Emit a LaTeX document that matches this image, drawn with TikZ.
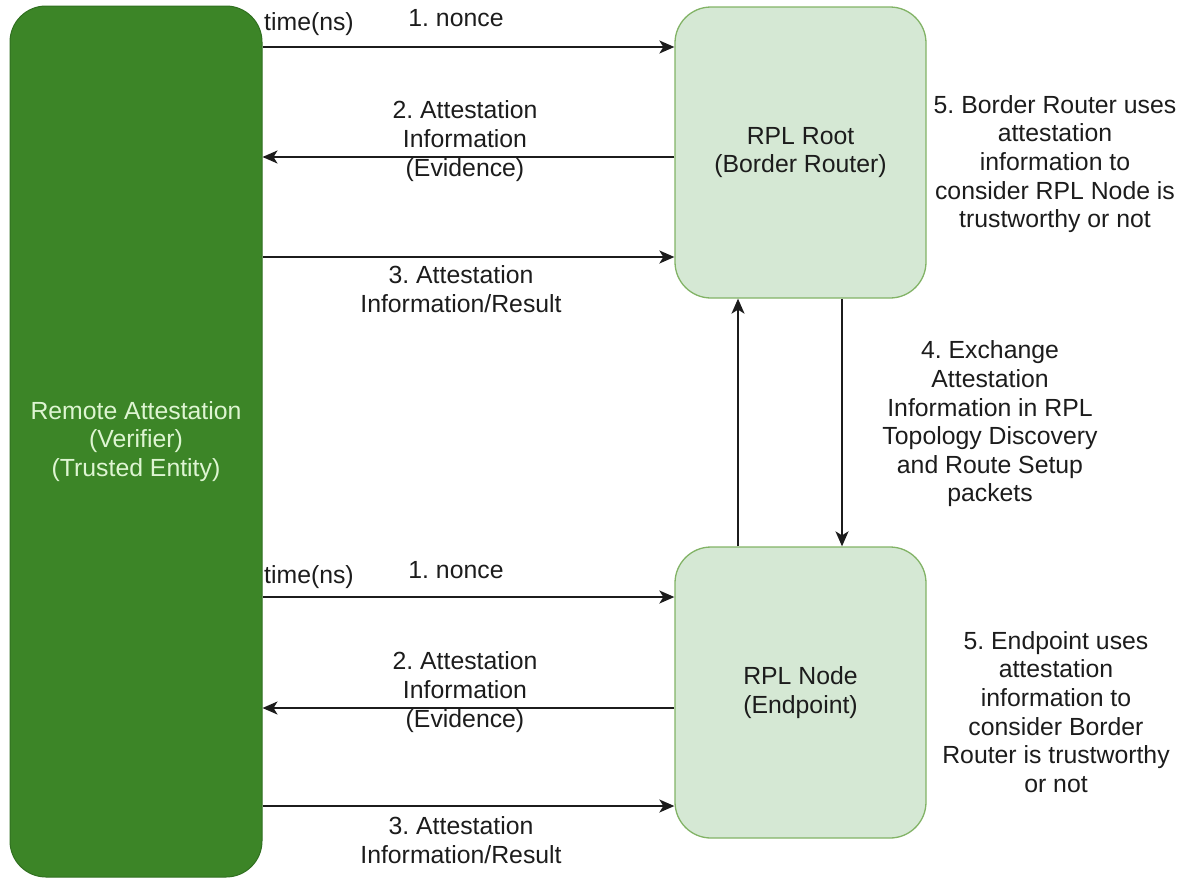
\documentclass[tikz,border=0pt]{standalone}
\usepackage{fontspec}
\setmainfont{Liberation Sans}
\usetikzlibrary{arrows.meta}
\definecolor{vgreen}{RGB}{60,133,39}
\definecolor{vgreenline}{RGB}{48,112,32}
\definecolor{lgfill}{RGB}{213,232,212}
\definecolor{lgline}{RGB}{130,179,102}
\definecolor{vtext}{RGB}{222,245,210}
\definecolor{ink}{RGB}{28,28,28}
\frenchspacing
\tikzset{
  txt/.style={font=\frenchspacing\fontsize{24.8}{28.6}\selectfont, text=ink, align=center, inner sep=0pt},
  verif/.style={rectangle, rounded corners=36pt, fill=vgreen, draw=vgreenline, line width=1pt,
    minimum width=252pt, minimum height=871pt, inner sep=0pt,
    font=\fontsize{24.8}{28.6}\selectfont, text=vtext, align=center},
  rpl/.style={rectangle, rounded corners=36pt, fill=lgfill, draw=lgline, line width=1.3pt,
    minimum width=251pt, minimum height=291pt, inner sep=0pt,
    font=\fontsize{24.8}{28.6}\selectfont, text=ink, align=center},
  arr/.style={draw=ink, line width=1.8pt, -{Stealth[length=15pt,width=13pt,inset=4pt]}}
}
\begin{document}
\begin{tikzpicture}[x=1pt,y=-1pt]
\useasboundingbox (0,0) rectangle (1191,879);
% main boxes
\node[verif] (verif) at (136,441.5) {Remote Attestation\\(Verifier)\\(Trusted Entity)};
\node[rpl] (root) at (800.5,152.5) {RPL Root\\(Border Router)};
\node[rpl] (endp) at (800.5,692.5) {RPL Node\\(Endpoint)};

% top group
\node[txt, anchor=west] (t1) at (264,24) {time(ns)};
\node[txt] (n1) at (456,18) {1. nonce};
\draw[arr] (verif.east |- 0,47) -- (root.west |- 0,47);
\node[txt] (e1) at (465,141) {2. Attestation\\Information\\(Evidence)};
\draw[arr] (root.west |- 0,157) -- (verif.east |- 0,157);
\draw[arr] (verif.east |- 0,257) -- (root.west |- 0,257);
\node[txt] (r1) at (461,289) {3. Attestation\\Information/Result};

% bottom group
\node[txt, anchor=west] (t2) at (264,577) {time(ns)};
\node[txt] (n2) at (456,570) {1. nonce};
\draw[arr] (verif.east |- 0,597) -- (endp.west |- 0,597);
\node[txt] (e2) at (465,692) {2. Attestation\\Information\\(Evidence)};
\draw[arr] (endp.west |- 0,708) -- (verif.east |- 0,708);
\draw[arr] (verif.east |- 0,806) -- (endp.west |- 0,806);
\node[txt] (r2) at (461,840) {3. Attestation\\Information/Result};

% vertical exchange
\draw[arr] (endp.north -| 738,0) -- (root.south -| 738,0);
\draw[arr] (root.south -| 842,0) -- (endp.north -| 842,0);
\node[txt] (x4) at (990,424) {4. Exchange\\Attestation\\Information in RPL\\Topology Discovery\\and Route Setup\\packets};

% side notes
\node[txt] (s1) at (1055,164) {5. Border Router uses\\attestation\\information to\\consider RPL Node is\\trustworthy or not};
\node[txt] (s2) at (1056,712) {5. Endpoint uses\\attestation\\information to\\consider Border\\Router is trustworthy\\or not};
\end{tikzpicture}
\end{document}
